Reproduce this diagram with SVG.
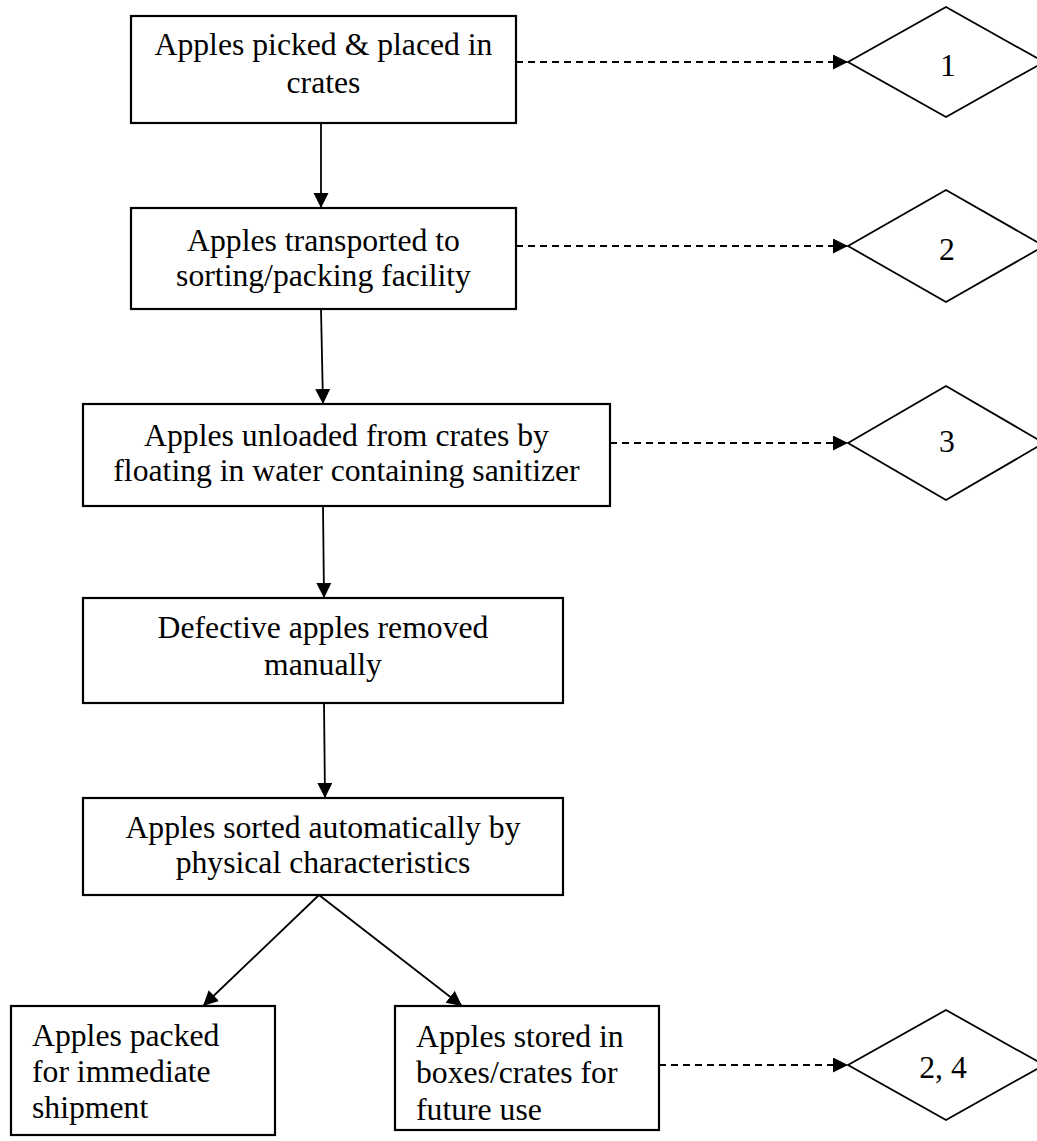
<svg xmlns="http://www.w3.org/2000/svg" width="1037" height="1141" viewBox="0 0 1037 1141">
  <style>
    .box { fill: #ffffff; stroke: #000000; stroke-width: 2.2; }
    .dia { fill: #ffffff; stroke: #000000; stroke-width: 1.8; }
    .lbl { font-family: "Liberation Serif", "Times New Roman", serif; font-size: 31.7px; fill: #000000; }
    .mid { text-anchor: middle; }
    .flow { fill: none; stroke: #000000; stroke-width: 1.8; }
    .dash { fill: none; stroke: #000000; stroke-width: 1.8; stroke-dasharray: 7 5; }
  </style>
  <defs>
    <marker id="head" markerUnits="userSpaceOnUse" markerWidth="17" markerHeight="17" refX="15" refY="7.5" orient="auto">
      <path d="M0,0 L15,7.5 L0,15 Z" fill="#000000"/>
    </marker>
  </defs>

  <rect width="1037" height="1141" fill="#ffffff"/>

  <!-- connectors -->
  <g id="connectors">
    <line class="flow" x1="321" y1="123" x2="321" y2="208" marker-end="url(#head)"/>
    <line class="flow" x1="321" y1="309" x2="323" y2="404" marker-end="url(#head)"/>
    <line class="flow" x1="323" y1="506" x2="324" y2="598" marker-end="url(#head)"/>
    <line class="flow" x1="324" y1="703" x2="325" y2="798" marker-end="url(#head)"/>
    <line class="flow" x1="319" y1="895" x2="203" y2="1006" marker-end="url(#head)"/>
    <line class="flow" x1="319" y1="895" x2="462" y2="1006" marker-end="url(#head)"/>
    <line class="dash" x1="516" y1="62" x2="848" y2="62" marker-end="url(#head)"/>
    <line class="dash" x1="516" y1="246" x2="848" y2="246" marker-end="url(#head)"/>
    <line class="dash" x1="610" y1="443" x2="848" y2="443" marker-end="url(#head)"/>
    <line class="dash" x1="659" y1="1065" x2="848" y2="1065" marker-end="url(#head)"/>
  </g>

  <!-- process steps -->
  <g id="pick">
    <rect class="box" x="131" y="16" width="385" height="107"/>
    <text class="lbl mid" x="323.5" y="55">Apples picked &amp; placed in</text>
    <text class="lbl mid" x="323.5" y="93">crates</text>
  </g>
  <g id="transport">
    <rect class="box" x="131" y="208" width="385" height="101"/>
    <text class="lbl mid" x="323.5" y="251">Apples transported to</text>
    <text class="lbl mid" x="323.5" y="286">sorting/packing facility</text>
  </g>
  <g id="unload">
    <rect class="box" x="83" y="404" width="527" height="102"/>
    <text class="lbl mid" x="346.5" y="446">Apples unloaded from crates by</text>
    <text class="lbl mid" x="346.5" y="481">floating in water containing sanitizer</text>
  </g>
  <g id="defects">
    <rect class="box" x="83" y="598" width="480" height="105"/>
    <text class="lbl mid" x="323" y="638">Defective apples removed</text>
    <text class="lbl mid" x="323" y="675">manually</text>
  </g>
  <g id="sort">
    <rect class="box" x="83" y="798" width="480" height="97"/>
    <text class="lbl mid" x="323" y="838">Apples sorted automatically by</text>
    <text class="lbl mid" x="323" y="873">physical characteristics</text>
  </g>
  <g id="ship">
    <rect class="box" x="11" y="1006" width="264" height="129"/>
    <text class="lbl" x="32" y="1046">Apples packed</text>
    <text class="lbl" x="32" y="1082">for immediate</text>
    <text class="lbl" x="32" y="1118">shipment</text>
  </g>
  <g id="store">
    <rect class="box" x="395" y="1006" width="264" height="124"/>
    <text class="lbl" x="416" y="1047">Apples stored in</text>
    <text class="lbl" x="416" y="1083">boxes/crates for</text>
    <text class="lbl" x="416" y="1120">future use</text>
  </g>

  <!-- hazard references -->
  <g id="ref1">
    <polygon class="dia" points="848,62 946,7 1044,62 946,117"/>
    <text class="lbl mid" x="948" y="76">1</text>
  </g>
  <g id="ref2">
    <polygon class="dia" points="848,246 946,190 1044,246 946,302"/>
    <text class="lbl mid" x="947" y="260">2</text>
  </g>
  <g id="ref3">
    <polygon class="dia" points="848,443 946,386 1044,443 946,500"/>
    <text class="lbl mid" x="947" y="452">3</text>
  </g>
  <g id="ref4">
    <polygon class="dia" points="848,1065 946,1010 1044,1065 946,1120"/>
    <text class="lbl mid" x="943" y="1078">2, 4</text>
  </g>
</svg>
